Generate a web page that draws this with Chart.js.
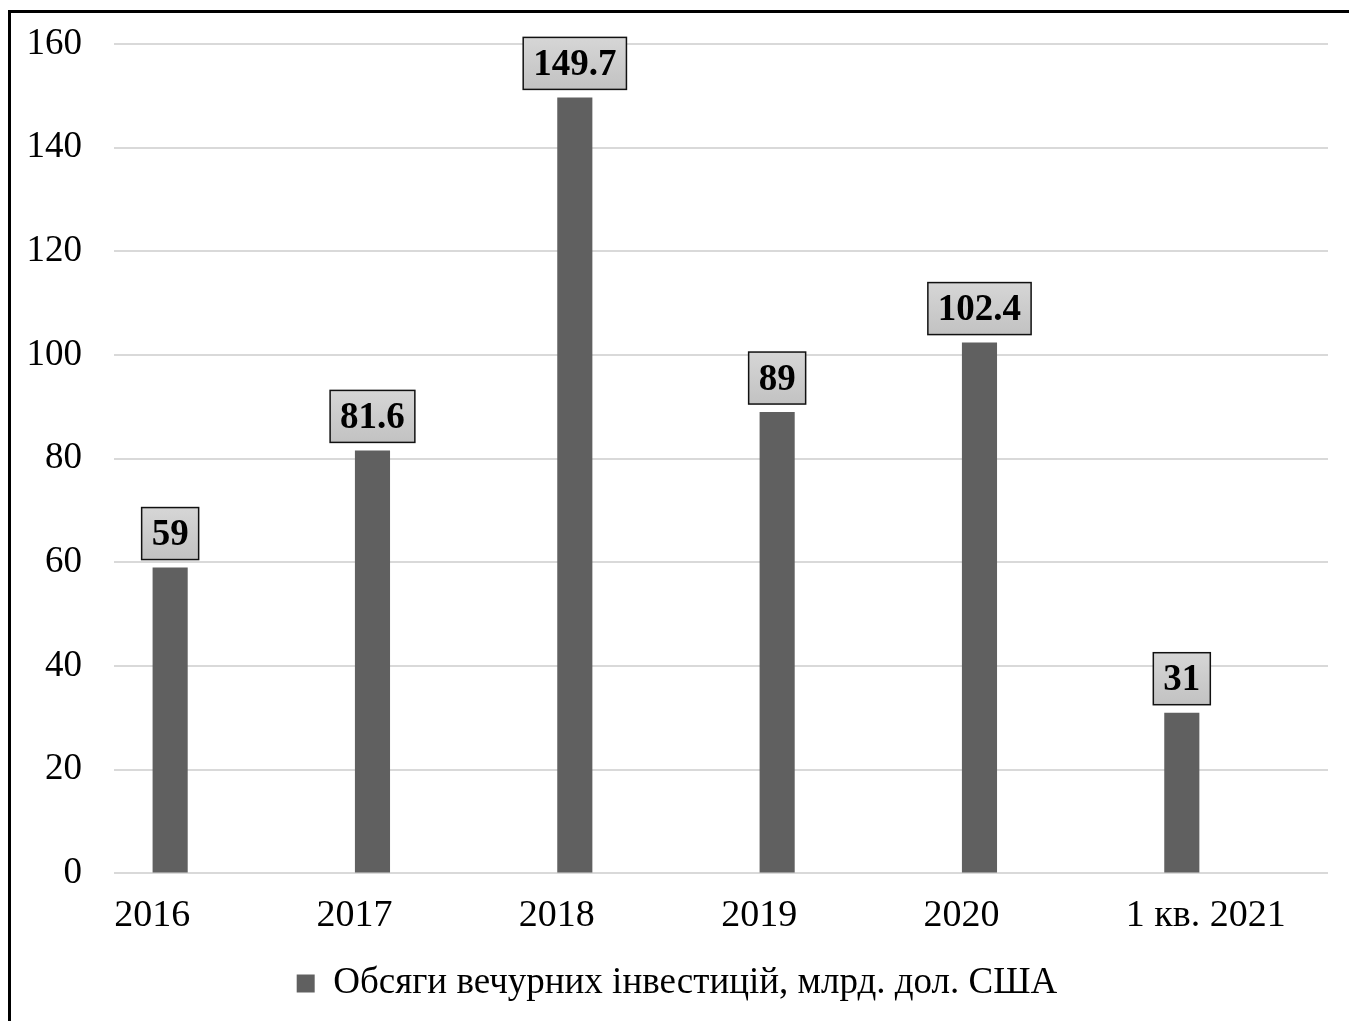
<!DOCTYPE html>
<html lang="uk">
<head>
<meta charset="utf-8">
<title>Обсяги венчурних інвестицій</title>
<script src="https://cdn.jsdelivr.net/npm/chart.js@4.4.1/dist/chart.umd.min.js"></script>
<style>
  html, body { margin: 0; padding: 0; background: #fff; overflow: hidden; }
  #wrap { position: relative; width: 1349px; height: 1021px; }
  #frame {
    position: absolute; left: 8px; top: 10px; width: 1400px; height: 1100px;
    border-left: 3px solid #000; border-top: 3px solid #000; box-sizing: border-box;
    pointer-events: none;
  }
  canvas { position: absolute; left: 0; top: 0; }
</style>
</head>
<body>
<div id="wrap">
  <canvas id="vcChart" width="1349" height="1021"></canvas>
  <div id="frame"></div>
</div>
<script>
// Categories and values (млрд. дол. США)
const categories = ['2016', '2017', '2018', '2019', '2020', '1 кв. 2021'];
const investments = [59, 81.6, 149.7, 89, 102.4, 31];
// second (empty) series keeps the bars shifted to the left like in the source workbook
const spacer = [null, null, null, null, null, null];
const yTicks = { min: 0, max: 160, step: 20 };

const serif = '"Liberation Serif", "Times New Roman", serif';

// boxed value labels above each bar
const valueBoxes = {
  id: 'valueBoxes',
  afterDatasetsDraw(chart) {
    const ctx = chart.ctx;
    const meta = chart.getDatasetMeta(0);
    ctx.save();
    ctx.font = 'bold 37px ' + serif;
    ctx.textAlign = 'center';
    ctx.textBaseline = 'middle';
    meta.data.forEach((bar, i) => {
      const text = String(investments[i]);
      const w = ctx.measureText(text).width + 20;
      const h = 52;
      const x = bar.x - w / 2;
      const y = bar.y - 8 - h;
      const grad = ctx.createLinearGradient(0, y, 0, y + h);
      grad.addColorStop(0, '#d6d6d6');
      grad.addColorStop(1, '#c2c2c2');
      ctx.fillStyle = grad;
      ctx.fillRect(x, y, w, h);
      ctx.lineWidth = 1.5;
      ctx.strokeStyle = '#111';
      ctx.strokeRect(x, y, w, h);
      ctx.fillStyle = '#000';
      ctx.fillText(text, bar.x, y + h / 2 + 2);
    });
    ctx.restore();
  }
};

const ctx = document.getElementById('vcChart').getContext('2d');
new Chart(ctx, {
  type: 'bar',
  data: {
    labels: categories,
    datasets: [{
      label: 'Обсяги вечурних інвестицій, млрд. дол. США',
      data: investments,
      backgroundColor: '#606060',
      borderWidth: 0,
      categoryPercentage: 0.89,
      barPercentage: 0.39
    }, {
      label: '',
      data: spacer,
      backgroundColor: '#a5a5a5',
      categoryPercentage: 0.89,
      barPercentage: 0.39
    }]
  },
  options: {
    responsive: false,
    animation: false,
    layout: { padding: { left: 26, right: 21, top: 44, bottom: 9 } },
    plugins: {
      legend: {
        position: 'bottom',
        labels: {
          filter: item => item.datasetIndex === 0,
          boxWidth: 18,
          boxHeight: 18,
          color: '#000',
          font: { family: serif, size: 37 },
          padding: 14
        }
      },
      tooltip: { enabled: false }
    },
    scales: {
      x: {
        grid: { display: false },
        border: { display: false },
        ticks: {
          color: '#000',
          font: { family: serif, size: 38 },
          align: 'start',
          labelOffset: -101,
          padding: 12,
          maxRotation: 0
        },
        // labels sit at the left edge of each category, no extra side padding needed
        afterFit: scale => { scale.paddingLeft = 0; scale.paddingRight = 0; }
      },
      y: {
        min: yTicks.min,
        max: yTicks.max,
        grid: { color: '#d9d9d9', lineWidth: 2, drawTicks: false },
        border: { display: false },
        ticks: {
          stepSize: yTicks.step,
          color: '#000',
          font: { family: serif, size: 37 },
          padding: 32
        },
        afterFit: scale => {
          scale.width = 88;
          scale.paddingTop = 0;
          scale.paddingBottom = 0;
        }
      }
    }
  },
  plugins: [valueBoxes]
});
</script>
</body>
</html>
